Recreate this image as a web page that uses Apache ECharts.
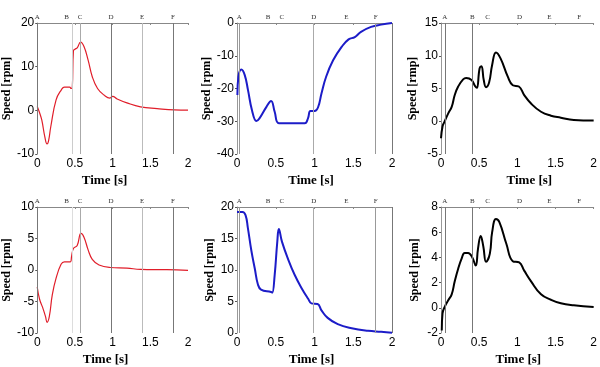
<!DOCTYPE html>
<html>
<head>
  <meta charset="utf-8">
  <title>Speed</title>
  <style>
    body { margin: 0; background: #fff; }
    #chart { width: 600px; height: 367px; }
  </style>
</head>
<body>
  <div id="chart"></div>
</body>
<script src="https://cdn.jsdelivr.net/npm/echarts@6/dist/echarts.min.js"></script>
<script>
  // time [s] and speed values
  var t1 = [0, 0.03, 0.06, 0.1, 0.13, 0.15, 0.18, 0.25, 0.32, 0.36, 0.43, 0.45, 0.465, 0.48, 0.5, 0.53, 0.575, 0.62, 0.675, 0.73, 0.8, 0.886, 0.965, 1.0, 1.06, 1.19, 1.37, 1.59, 1.82, 2.0];
  var v1 = [0.9, -0.5, -2.2, -6.0, -7.7, -7.0, -3.7, 2.4, 4.7, 5.3, 5.3, 5.0, 5.2, 13.6, 14.0, 14.3, 15.6, 14.6, 11.5, 7.7, 5.0, 3.5, 2.8, 3.2, 2.6, 1.7, 0.8, 0.4, 0.1, 0.05];

  var t2 = [0.005, 0.018, 0.056, 0.1, 0.142, 0.194, 0.25, 0.29, 0.38, 0.44, 0.486, 0.54, 0.7, 0.874, 0.916, 0.947, 1.0, 1.045, 1.09, 1.15, 1.24, 1.35, 1.44, 1.52, 1.6, 1.73, 1.86, 2.0];
  var v2 = [-22.0, -16.4, -14.2, -15.9, -20.5, -26.7, -29.9, -29.1, -25.6, -23.8, -27.1, -30.6, -30.6, -30.6, -29.1, -26.9, -26.9, -25.8, -21.5, -16.4, -11.4, -7.3, -5.0, -4.3, -2.7, -1.2, -0.5, 0];

  var t3 = [0, 0.02, 0.045, 0.095, 0.14, 0.18, 0.225, 0.29, 0.33, 0.4, 0.45, 0.47, 0.506, 0.53, 0.56, 0.59, 0.63, 0.67, 0.72, 0.78, 0.875, 0.94, 1.02, 1.09, 1.18, 1.31, 1.44, 1.57, 1.74, 2.0];
  var v3 = [-2.6, -0.8, -0.1, 1.2, 2.2, 4.0, 5.3, 6.4, 6.6, 6.3, 5.3, 5.1, 8.1, 8.4, 6.3, 5.2, 5.9, 8.6, 10.5, 9.6, 6.8, 5.5, 5.3, 4.0, 2.7, 1.45, 0.85, 0.55, 0.2, 0.1];

  var t4 = [0, 0.03, 0.07, 0.11, 0.13, 0.16, 0.2, 0.25, 0.316, 0.36, 0.44, 0.456, 0.48, 0.53, 0.58, 0.62, 0.675, 0.73, 0.82, 0.97, 1.19, 1.37, 1.72, 2.0];
  var v4 = [-2.7, -4.6, -5.9, -7.4, -8.3, -7.4, -3.9, -1.3, 0.9, 1.3, 1.3, 2.2, 3.4, 3.9, 5.8, 5.2, 3.2, 1.7, 0.8, 0.4, 0.3, 0.1, 0.05, -0.05];

  var t5 = [0, 0.07, 0.11, 0.14, 0.185, 0.23, 0.27, 0.31, 0.44, 0.455, 0.486, 0.52, 0.54, 0.58, 0.66, 0.745, 0.83, 0.92, 0.96, 1.04, 1.09, 1.17, 1.3, 1.48, 1.69, 1.86, 2.0];
  var v5 = [19.2, 19.2, 18.7, 16.7, 13.1, 10.2, 7.7, 6.9, 6.5, 6.4, 9.2, 14.5, 16.5, 14.5, 11.7, 9.2, 7.2, 5.4, 4.7, 4.6, 3.6, 2.4, 1.4, 0.75, 0.35, 0.2, 0.05];

  var t6 = [0.01, 0.02, 0.05, 0.095, 0.14, 0.18, 0.225, 0.27, 0.31, 0.355, 0.41, 0.455, 0.485, 0.52, 0.555, 0.59, 0.64, 0.67, 0.72, 0.765, 0.855, 0.94, 1.025, 1.09, 1.18, 1.31, 1.44, 1.57, 1.74, 2.0];
  var v6 = [-1.8, -0.45, 0.1, 0.6, 1.07, 2.1, 3.1, 3.9, 4.35, 4.35, 4.0, 3.35, 4.7, 5.7, 4.85, 3.65, 4.3, 6.0, 7.05, 6.8, 5.1, 3.7, 3.6, 2.95, 2.1, 1.07, 0.64, 0.36, 0.2, 0.06];

  // event markers (time, letter) per column of panels
  var markLeftT = [0, 0.39, 0.47, 0.57, 0.98, 1.39, 1.80];
  var markLeftL = ['A', 'B', '', 'C', 'D', 'E', 'F'];
  var markMidT = [0.03, 0.4, 0.58, 0.99, 1.41, 1.79, 2.0];
  var markMidL = ['A', 'B', 'C', 'D', 'E', 'F', ''];
  var markRightT = [0.05, 0.41, 0.61, 1.03, 1.42, 1.81];
  var markRightL = ['A', 'B', 'C', 'D', 'E', 'F'];

  var xTicks = ['0', '0.5', '1', '1.5', '2'];

  function zip(t, v) {
    return t.map(function (x, i) { return [x, v[i]]; });
  }

  var none = 'rgba(0,0,0,0)';
  var panels = [
    { grid: [36, 23, 152, 131], y: [-10, 20, 10], name: 'Speed [rpm]', gap: 23, color: '#e01e2a', width: 1.2,
      data: zip(t1, v1), mt: markLeftT, ml: markLeftL, mc: ['#777', none, '#ccc', '#aaa', '#777', '#bbb', '#777'], pad: [0, 16, 0, 0] },
    { grid: [237, 23, 155, 131], y: [-40, 0, 10], name: 'Speed [rpm]', gap: 21, color: '#1c1cc8', width: 2,
      data: zip(t2, v2), mt: markMidT, ml: markMidL, mc: ['#999', none, none, '#aaa', none, '#999', '#777'], pad: [0, 7, 0, 0] },
    { grid: [441, 23, 154, 131], y: [-5, 15, 5], name: 'Speed [rmp]', gap: 22, color: '#000', width: 2,
      data: zip(t3, v3), mt: markRightT, ml: markRightL, mc: ['#777', '#777', none, none, none, none], pad: [0, 0, 0, 24] },
    { grid: [36, 207, 152, 132], y: [-10, 10, 5], name: 'Speed [rpm]', gap: 24, color: '#e01e2a', width: 1.2,
      data: zip(t4, v4), mt: markLeftT, ml: markLeftL, mc: ['#777', none, '#ddd', '#aaa', '#777', '#bbb', '#777'], pad: [0, 14, 0, 0] },
    { grid: [237, 207, 155, 132], y: [0, 20, 5], name: 'Speed [rpm]', gap: 21, color: '#1c1cc8', width: 2,
      data: zip(t5, v5), mt: markMidT, ml: markMidL, mc: ['#999', none, none, '#aaa', none, '#999', '#777'], pad: [0, 6, 0, 0] },
    { grid: [441, 207, 154, 132], y: [-2, 8, 2], name: 'Speed [rpm]', gap: 20, color: '#000', width: 2,
      data: zip(t6, v6), mt: markRightT, ml: markRightL, mc: ['#777', '#777', none, none, none, none], pad: [0, 0, 0, 2] }
  ];

  var sans = 'Liberation Sans';
  var serif = 'Liberation Serif';
  var option = { animation: false, grid: [], xAxis: [], yAxis: [], series: [] };

  panels.forEach(function (p, i) {
    option.grid.push({ left: p.grid[0], top: p.grid[1], width: p.grid[2], height: p.grid[3] });
    // bottom time axis
    option.xAxis.push({
      type: 'value', gridIndex: i, min: 0, max: 2, interval: 0.5,
      name: 'Time [s]', nameLocation: 'middle', nameGap: 20,
      nameTextStyle: { fontFamily: serif, fontWeight: 'bold', fontSize: 13, color: '#000', padding: p.pad },
      axisLine: { show: false }, axisTick: { show: false }, splitLine: { show: false },
      axisLabel: { fontFamily: sans, fontSize: 12, color: '#000', margin: 4,
        formatter: function (val) { return xTicks[Math.round(val * 2)]; } }
    });
    // top frame line
    option.xAxis.push({
      type: 'value', gridIndex: i, min: 0, max: 2, interval: 0.5, position: 'top',
      axisLine: { show: true, lineStyle: { color: '#888', width: 1 } },
      axisTick: { show: true, inside: true, length: 2, lineStyle: { color: '#888' } },
      axisLabel: { show: false }, splitLine: { show: false }
    });
    option.yAxis.push({
      type: 'value', gridIndex: i, min: p.y[0], max: p.y[1], interval: p.y[2],
      name: p.name, nameLocation: 'middle', nameRotate: 90, nameGap: p.gap,
      nameTextStyle: { fontFamily: serif, fontWeight: 'bold', fontSize: 12, color: '#000' },
      axisLine: { show: true, lineStyle: { color: '#999', width: 1 } },
      axisTick: { show: true, length: 2, lineStyle: { color: '#555' } },
      splitLine: { show: false },
      axisLabel: { fontFamily: sans, fontSize: 12, color: '#000', margin: 3 }
    });
    option.series.push({
      type: 'line', xAxisIndex: i * 2, yAxisIndex: i, data: p.data,
      showSymbol: false, smooth: 0.45,
      lineStyle: { color: p.color, width: p.width },
      markLine: {
        silent: true, symbol: 'none', animation: false,
        data: p.mt.map(function (t, k) {
          return {
            xAxis: t,
            lineStyle: { color: p.mc[k], type: 'solid', width: 1 },
            label: { show: p.ml[k] !== '', formatter: p.ml[k], position: 'end', distance: 2,
              fontFamily: serif, fontSize: 7, color: '#333' }
          };
        })
      }
    });
  });

  var chart = echarts.init(document.getElementById('chart'));
  chart.setOption(option);
</script>
</html>
